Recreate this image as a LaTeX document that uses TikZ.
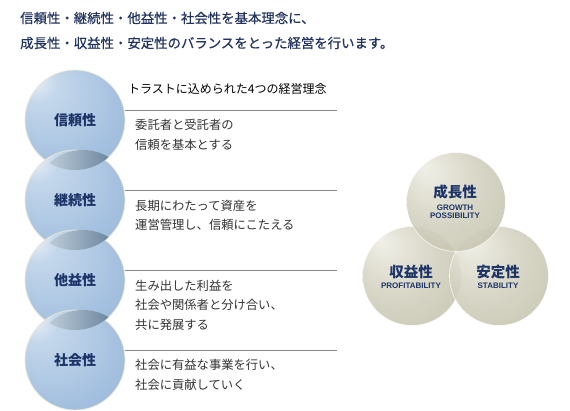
\documentclass[tikz,border=0pt]{standalone}
\usepackage{fontspec}
\newfontfamily\jp{Noto Sans CJK JP}
\newfontfamily\jpt{Noto Sans CJK JP}[FakeBold=0.5]
\newfontfamily\en{Liberation Sans}
\usetikzlibrary{calc}
\definecolor{navy}{HTML}{1C3468}
\definecolor{titleblue}{HTML}{22335F}
\definecolor{txt}{HTML}{333333}
\definecolor{rule}{HTML}{8A8A8A}
\definecolor{bA}{HTML}{F0F4F8}
\definecolor{bB}{HTML}{C4D7EB}
\definecolor{bC}{HTML}{A5C1E0}
\definecolor{bD}{HTML}{8AADD3}
\definecolor{kA}{HTML}{EFEEE5}
\definecolor{kB}{HTML}{D6D4C3}
\definecolor{kC}{HTML}{C0BEA8}
\definecolor{kD}{HTML}{B2B09A}
\definecolor{lensL}{HTML}{D2DEE8}
\definecolor{lensR}{HTML}{4E6C88}
\definecolor{rimB}{HTML}{ECE8D4}
\pgfdeclareradialshading{bluesph}{\pgfpoint{-22bp}{22bp}}{color(0bp)=(bA); color(9bp)=(bB); color(30bp)=(bC); color(50bp)=(bD)}
\pgfdeclareradialshading{khakisph}{\pgfpoint{-16bp}{18bp}}{color(0bp)=(kA); color(18bp)=(kB); color(40bp)=(kC); color(50bp)=(kD)}
\tikzset{
  bluecirc/.style={circle, minimum size=100pt, inner sep=0pt, shade, shading=bluesph, draw=rimB, line width=0.7pt},
  khakicirc/.style={circle, minimum size=99pt, inner sep=0pt, shade, shading=khakisph, draw=white, draw opacity=0.75, line width=0.7pt, fill opacity=0.88},
  clabel/.style={font=\jp\bfseries\fontsize{14}{16}\selectfont, text=navy},
  klabel/.style={font=\jp\bfseries\fontsize{14.5}{16}\selectfont, text=navy},
  elabel/.style={font=\en\bfseries\fontsize{8}{8.5}\selectfont, text=navy, align=center, inner sep=0pt},
  desc/.style={anchor=west, font=\jp\fontsize{12.3}{19.5}\selectfont, text=txt, align=left, inner sep=0pt},
  title/.style={anchor=west, font=\jpt\fontsize{13.4}{16}\selectfont, text=titleblue, inner sep=0pt},
  ruleline/.style={draw=rule, line width=0.8pt}
}
\begin{document}
\begin{tikzpicture}[x=1pt,y=-1pt]
\useasboundingbox[fill=white] (0,0) rectangle (570,410);
% title
\node[title] (t1) at (20,18) {信頼性・継続性・他益性・社会性を基本理念に、};
\node[title] (t2) at (20,43) {成長性・収益性・安定性のバランスをとった経営を行います。};
% left circles
\node[bluecirc] (c1) at (75,120) {};
\node[bluecirc] (c2) at (75,200) {};
\node[bluecirc] (c3) at (75,280) {};
\node[bluecirc] (c4) at (75,360) {};
\foreach \a/\b in {c1/c2,c2/c3,c3/c4}{
  \begin{scope}
    \clip (\a.center) circle (50pt);
    \shade[left color=lensL, right color=lensR] ([xshift=8pt]\b.center) circle (50pt);
  \end{scope}
}
\node[clabel] at (c1) {信頼性};
\node[clabel] at (c2) {継続性};
\node[clabel] at (c3) {他益性};
\node[clabel] at (c4) {社会性};
% heading
\node[anchor=west, font=\jp\fontsize{12}{14}\selectfont, text=black, inner sep=0pt] (head) at (128,89) {トラストに込められた4つの経営理念};
% rules
\foreach \i/\y in {1/110.5,2/190.5,3/270.5,4/350.5}{
  \coordinate (r\i a) at (125,\y);
  \coordinate (r\i b) at (337,\y);
  \draw[ruleline] (r\i a) -- (r\i b);
}
% descriptions
\node[desc] (d1) at (135,135) {委託者と受託者の\\信頼を基本とする};
\node[desc] (d2) at (135,215.5) {長期にわたって資産を\\運営管理し、信頼にこたえる};
\node[desc] (d3) at (135,305) {生み出した利益を\\社会や関係者と分け合い、\\共に発展する};
\node[desc] (d4) at (135,375) {社会に有益な事業を行い、\\社会に貢献していく};
% right circles
\node[khakicirc] (s2) at (412,276) {};
\node[khakicirc] (s3) at (499,276) {};
\node[khakicirc] (s1) at (456,202) {};
\node[klabel] at (455,192) {成長性};
\node[elabel] at (455,211.5) {GROWTH\\POSSIBILITY};
\node[klabel] at (411,272) {収益性};
\node[elabel] at (411,286) {PROFITABILITY};
\node[klabel] at (498,272) {安定性};
\node[elabel] at (498,286) {STABILITY};
\end{tikzpicture}
\end{document}
